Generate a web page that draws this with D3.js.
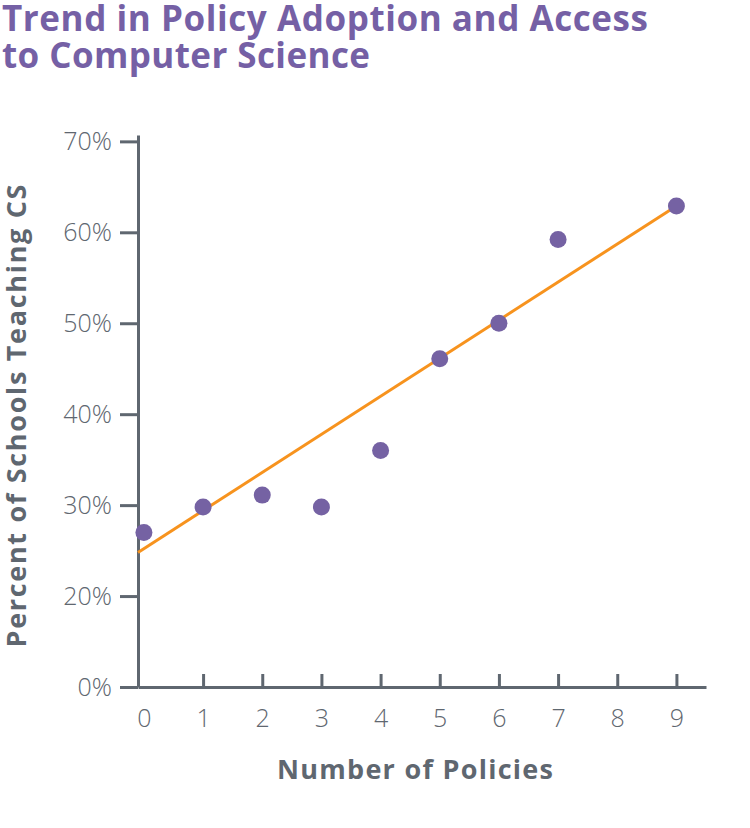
<!DOCTYPE html>
<html>
<head>
<meta charset="utf-8">
<script src="https://cdn.jsdelivr.net/npm/d3@7"></script>
<style>
    body { margin: 0; background: #fff; }
    .tick text { font-family: "Open Sans", sans-serif; font-weight: 300; fill: #5f6770; }
</style>
</head>
<body>
<div id="chart"></div>
<script>
// chart data
const policies = [0, 1, 2, 3, 4, 5, 6, 7, 9];
const percentTeaching = [27, 29.8, 31.1, 29.8, 36, 46.1, 50, 59.2, 62.9];
// trend line, from the y axis to the last point
const trendX = [-0.1, 9];
const trendY = [24.8, 62.9];
const xTicks = [0, 1, 2, 3, 4, 5, 6, 7, 8, 9];
// the bottom tick sits at the 10% step but is labelled 0%
const yTicks = [10, 20, 30, 40, 50, 60, 70];
const yTickLabels = ["0%", "20%", "30%", "40%", "50%", "60%", "70%"];
const titleLines = ["Trend in Policy Adoption and Access", "to Computer Science"];

const width = 750;
const height = 828;
const axisColor = "#5f6770";
const font = "'Open Sans', sans-serif";

const svg = d3.select("#chart")
    .append("svg")
    .attr("width", width)
    .attr("height", height);

// title, stretched to the width of the original wide typeface
const titleWidths = [646, 368];
svg.selectAll(".title")
    .data(titleLines)
    .enter().append("text")
    .attr("class", "title")
    .attr("x", 2)
    .attr("y", (d, i) => 31 + i * 37)
    .attr("font-family", font)
    .attr("font-weight", 700)
    .attr("font-size", 35)
    .attr("fill", "#7560a5")
    .attr("textLength", (d, i) => titleWidths[i])
    .attr("lengthAdjust", "spacing")
    .text(d => d);

// scales
const xScale = d3.scaleLinear()
    .domain([-0.1, 9.5])
    .range([138, 706]);

const yScale = d3.scaleLinear()
    .domain([10, 70.7])
    .range([687, 135]);

// y axis
const yAxis = svg.append("g")
    .attr("transform", "translate(" + xScale.range()[0] + ",0)")
    .call(d3.axisLeft(yScale)
        .tickValues(yTicks)
        .tickFormat((d, i) => yTickLabels[i])
        .tickSizeInner(18)
        .tickSizeOuter(0)
        .tickPadding(8));

// x axis
const xAxis = svg.append("g")
    .attr("transform", "translate(0," + yScale.range()[0] + ")")
    .call(d3.axisBottom(xScale)
        .tickValues(xTicks)
        .tickFormat(d3.format("d"))
        .tickSizeInner(-13)
        .tickSizeOuter(0)
        .tickPadding(22));

// no tick mark for 0, it would sit on the y axis
xAxis.selectAll(".tick").filter(d => d === 0).select("line").remove();

[xAxis, yAxis].forEach(g => {
    g.select(".domain").attr("stroke", axisColor).attr("stroke-width", 3);
    g.selectAll(".tick line").attr("stroke", axisColor).attr("stroke-width", 3);
    g.selectAll(".tick text").attr("font-size", 25);
});

// trend line
svg.append("path")
    .datum(d3.zip(trendX, trendY))
    .attr("fill", "none")
    .attr("stroke", "#f7931e")
    .attr("stroke-width", 3)
    .attr("d", d3.line().x(d => xScale(d[0])).y(d => yScale(d[1])));

// points
svg.selectAll(".dot")
    .data(d3.zip(policies, percentTeaching))
    .enter().append("circle")
    .attr("class", "dot")
    .attr("cx", d => xScale(d[0]))
    .attr("cy", d => yScale(d[1]))
    .attr("r", 8.5)
    .attr("fill", "#7562a3");

// axis titles
svg.append("text")
    .attr("x", 415)
    .attr("y", 779)
    .attr("text-anchor", "middle")
    .attr("font-family", font)
    .attr("font-weight", 700)
    .attr("font-size", 27)
    .attr("fill", axisColor)
    .attr("textLength", 276)
    .attr("lengthAdjust", "spacing")
    .text("Number of Policies");

svg.append("text")
    .attr("transform", "translate(26,416) rotate(-90)")
    .attr("text-anchor", "middle")
    .attr("font-family", font)
    .attr("font-weight", 700)
    .attr("font-size", 27)
    .attr("fill", axisColor)
    .attr("textLength", 463)
    .attr("lengthAdjust", "spacing")
    .text("Percent of Schools Teaching CS");
</script>
</body>
</html>
